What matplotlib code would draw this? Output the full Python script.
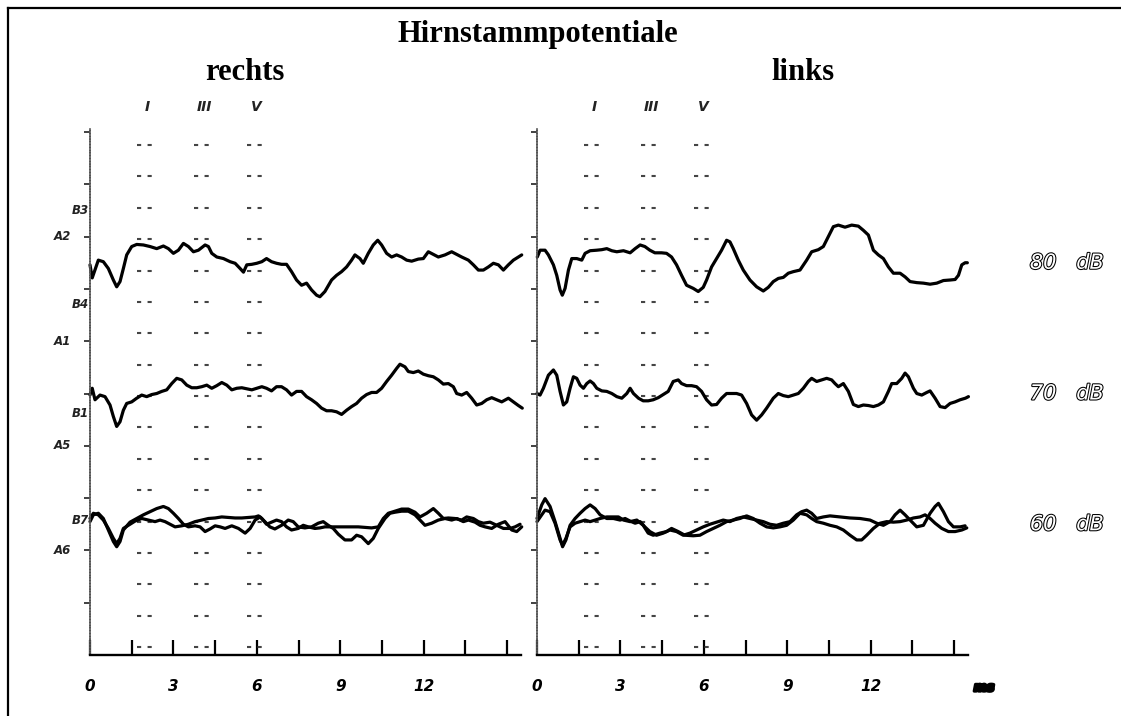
import numpy as np
import matplotlib
matplotlib.use("Agg")
import matplotlib.pyplot as plt
from matplotlib import patheffects as pe
from matplotlib.lines import Line2D

plt.rcParams['lines.scale_dashes'] = False

# ---------------------------------------------------------------
# Brainstem evoked responses: latency in ms, amplitude in divisions
# relative to the channel baseline (positive = up)
# ---------------------------------------------------------------

# right ear (rechts), 80 dB
RECHTS_80_T = [0.00, 0.08, 0.30, 0.48, 0.66, 0.84, 0.96, 1.08, 1.20, 1.32, 1.50, 1.68, 1.92, 2.16,
               2.40, 2.64, 2.82, 3.00, 3.18, 3.36, 3.54, 3.72, 3.90, 4.14, 4.26, 4.38, 4.56, 4.80,
               5.04, 5.22, 5.40, 5.52, 5.64, 5.82, 6.00, 6.18, 6.35, 6.53, 6.71, 6.89, 7.07, 7.25,
               7.43, 7.61, 7.79, 7.97, 8.15, 8.27, 8.45, 8.69, 8.87, 9.05, 9.23, 9.41, 9.53, 9.71,
               9.83, 10.01, 10.19, 10.35, 10.49, 10.67, 10.85, 11.03, 11.21, 11.39, 11.57, 11.81,
               11.99, 12.17, 12.35, 12.53, 12.77, 13.01, 13.19, 13.37, 13.61, 13.79, 13.97, 14.15,
               14.33, 14.51, 14.69, 14.87, 15.05, 15.23, 15.41, 15.53]
RECHTS_80_A = [-0.04, -0.29, 0.05, 0.02, -0.11, -0.33, -0.46, -0.36, -0.11, 0.15, 0.31, 0.35, 0.34, 0.31,
               0.27, 0.32, 0.27, 0.18, 0.24, 0.37, 0.31, 0.21, 0.24, 0.34, 0.31, 0.18, 0.11, 0.08,
               0.02, -0.01, -0.11, -0.18, -0.04, -0.03, -0.01, 0.02, 0.08, 0.02, -0.01, -0.03, -0.03, -0.17,
               -0.33, -0.43, -0.39, -0.52, -0.62, -0.65, -0.55, -0.33, -0.24, -0.17, -0.08, 0.05, 0.15, 0.08,
               -0.01, 0.18, 0.34, 0.43, 0.34, 0.18, 0.11, 0.15, 0.11, 0.05, 0.03, 0.07,
               0.08, 0.21, 0.16, 0.11, 0.15, 0.21, 0.16, 0.11, 0.05, -0.04, -0.14, -0.14,
               -0.08, -0.01, -0.04, -0.14, -0.04, 0.05, 0.11, 0.15]

# left ear (links), 80 dB
LINKS_80_T = [0.01, 0.11, 0.29, 0.41, 0.59, 0.71, 0.83, 0.91, 1.01, 1.13, 1.25, 1.43, 1.61, 1.73,
              1.91, 2.15, 2.33, 2.51, 2.69, 2.87, 3.11, 3.35, 3.53, 3.71, 3.88, 4.06, 4.24, 4.48,
              4.66, 4.84, 5.02, 5.20, 5.38, 5.62, 5.80, 5.98, 6.10, 6.28, 6.46, 6.64, 6.82, 6.94,
              7.06, 7.24, 7.42, 7.66, 7.90, 8.14, 8.32, 8.50, 8.68, 8.86, 9.04, 9.22, 9.46, 9.70,
              9.88, 10.12, 10.30, 10.48, 10.66, 10.84, 11.08, 11.32, 11.56, 11.74, 11.92, 12.10,
              12.28, 12.46, 12.64, 12.82, 13.06, 13.24, 13.42, 13.66, 13.90, 14.14, 14.38, 14.62,
              14.86, 15.04, 15.16, 15.28, 15.40, 15.48]
LINKS_80_A = [0.11, 0.24, 0.24, 0.15, -0.04, -0.24, -0.52, -0.62, -0.49, -0.14, 0.08, 0.08, 0.05, 0.18,
              0.23, 0.24, 0.25, 0.27, 0.23, 0.21, 0.23, 0.19, 0.27, 0.34, 0.31, 0.24, 0.19, 0.19,
              0.18, 0.11, -0.04, -0.24, -0.43, -0.49, -0.55, -0.47, -0.33, -0.08, 0.08, 0.24, 0.43, 0.40,
              0.27, 0.05, -0.14, -0.33, -0.46, -0.54, -0.47, -0.36, -0.30, -0.28, -0.20, -0.17, -0.14, 0.05,
              0.21, 0.25, 0.31, 0.50, 0.69, 0.72, 0.68, 0.72, 0.70, 0.62, 0.53, 0.24,
              0.15, 0.08, -0.08, -0.20, -0.20, -0.27, -0.36, -0.38, -0.39, -0.41, -0.39, -0.34,
              -0.33, -0.32, -0.24, -0.04, 0.00, 0.00]

# right ear (rechts), 70 dB
RECHTS_70_T = [0.00, 0.08, 0.18, 0.36, 0.54, 0.72, 0.84, 0.96, 1.08, 1.20, 1.32, 1.50, 1.68, 1.86,
               2.04, 2.22, 2.40, 2.58, 2.76, 2.94, 3.12, 3.30, 3.48, 3.66, 3.84, 4.02, 4.20, 4.38,
               4.56, 4.74, 4.92, 5.10, 5.28, 5.46, 5.64, 5.82, 6.00, 6.18, 6.35, 6.53, 6.71, 6.89,
               7.07, 7.25, 7.43, 7.61, 7.79, 7.97, 8.15, 8.33, 8.51, 8.69, 8.87, 9.05, 9.23, 9.41,
               9.59, 9.77, 9.95, 10.13, 10.31, 10.49, 10.67, 10.85, 11.03, 11.15, 11.33, 11.45,
               11.63, 11.81, 11.99, 12.17, 12.35, 12.53, 12.71, 12.89, 13.07, 13.19, 13.37, 13.55,
               13.73, 13.91, 14.09, 14.27, 14.45, 14.63, 14.81, 15.05, 15.23, 15.41, 15.55]
RECHTS_70_A = [-0.03, 0.10, -0.12, -0.03, -0.06, -0.22, -0.44, -0.63, -0.54, -0.32, -0.19, -0.16, -0.09, -0.03,
               -0.06, -0.02, 0.00, 0.04, 0.07, 0.19, 0.29, 0.26, 0.16, 0.11, 0.11, 0.13, 0.16, 0.10,
               0.15, 0.21, 0.16, 0.07, 0.10, 0.11, 0.09, 0.07, 0.10, 0.13, 0.10, 0.05, 0.13, 0.13,
               0.07, -0.03, 0.04, 0.04, -0.06, -0.12, -0.19, -0.28, -0.33, -0.33, -0.35, -0.40, -0.32, -0.25,
               -0.19, -0.09, -0.02, 0.02, 0.02, 0.10, 0.23, 0.35, 0.48, 0.56, 0.51, 0.42,
               0.40, 0.43, 0.37, 0.34, 0.32, 0.26, 0.18, 0.19, 0.13, 0.00, -0.03, 0.02,
               -0.09, -0.22, -0.19, -0.12, -0.08, -0.12, -0.16, -0.09, -0.16, -0.23, -0.28]

# left ear (links), 70 dB
LINKS_70_T = [0.00, 0.11, 0.23, 0.41, 0.59, 0.71, 0.83, 0.95, 1.07, 1.19, 1.31, 1.43, 1.55, 1.67,
              1.79, 1.91, 2.03, 2.15, 2.33, 2.51, 2.69, 2.87, 3.05, 3.23, 3.35, 3.47, 3.65, 3.82,
              4.00, 4.18, 4.36, 4.54, 4.72, 4.90, 5.08, 5.20, 5.38, 5.56, 5.74, 5.92, 6.10, 6.28,
              6.46, 6.64, 6.82, 7.00, 7.18, 7.36, 7.54, 7.72, 7.90, 8.08, 8.26, 8.50, 8.68, 8.86,
              9.04, 9.22, 9.40, 9.58, 9.76, 9.88, 10.06, 10.24, 10.42, 10.60, 10.72, 10.84, 11.02,
              11.20, 11.38, 11.56, 11.74, 11.92, 12.10, 12.28, 12.46, 12.64, 12.76, 12.94, 13.12,
              13.24, 13.36, 13.54, 13.66, 13.84, 14.02, 14.14, 14.32, 14.50, 14.68, 14.86, 15.04,
              15.22, 15.41, 15.52]
LINKS_70_A = [0.00, -0.03, 0.10, 0.35, 0.45, 0.35, 0.04, -0.22, -0.16, 0.10, 0.32, 0.29, 0.16, 0.10,
              0.19, 0.24, 0.19, 0.10, 0.05, 0.04, 0.00, -0.06, -0.09, 0.00, 0.10, 0.00, -0.09, -0.14,
              -0.14, -0.12, -0.08, -0.02, 0.04, 0.23, 0.26, 0.19, 0.15, 0.15, 0.13, 0.04, -0.12, -0.22,
              -0.21, -0.09, 0.00, 0.00, 0.00, -0.03, -0.19, -0.41, -0.51, -0.41, -0.28, -0.09, 0.00, -0.04,
              -0.06, -0.03, 0.00, 0.10, 0.23, 0.29, 0.23, 0.26, 0.29, 0.26, 0.19, 0.13, 0.19,
              0.04, -0.21, -0.25, -0.22, -0.23, -0.25, -0.22, -0.16, 0.04, 0.19, 0.19, 0.29,
              0.39, 0.32, 0.10, 0.00, -0.03, 0.02, 0.05, -0.09, -0.25, -0.27, -0.19, -0.16,
              -0.12, -0.09, -0.06]

# right ear (rechts), 60 dB, two repeated runs
RECHTS_60A_T = [0.00, 0.12, 0.30, 0.48, 0.66, 0.84, 0.96, 1.08, 1.20, 1.44, 1.68, 1.92, 2.16, 2.40,
                2.64, 2.82, 3.00, 3.18, 3.36, 3.54, 3.78, 3.96, 4.14, 4.32, 4.50, 4.68, 4.86, 5.10,
                5.34, 5.58, 5.76, 5.94, 6.12, 6.29, 6.47, 6.65, 6.89, 7.13, 7.31, 7.49, 7.73, 7.97,
                8.21, 8.39, 8.57, 8.75, 8.93, 9.17, 9.41, 9.59, 9.77, 10.01, 10.19, 10.37, 10.61,
                10.79, 10.97, 11.21, 11.45, 11.69, 11.87, 12.05, 12.29, 12.53, 12.77, 13.01, 13.19,
                13.43, 13.61, 13.85, 14.03, 14.21, 14.45, 14.69, 14.93, 15.17, 15.35, 15.53]
RECHTS_60A_A = [0.05, 0.18, 0.21, 0.11, -0.11, -0.33, -0.43, -0.33, -0.11, 0.04, 0.11, 0.18, 0.24, 0.30,
                0.34, 0.30, 0.21, 0.11, 0.00, -0.05, -0.03, -0.05, -0.14, -0.09, -0.03, -0.05, -0.08, -0.03,
                -0.08, -0.17, -0.08, 0.08, 0.14, 0.05, -0.05, -0.09, -0.02, 0.08, 0.05, -0.05, -0.07, -0.05,
                0.02, 0.05, -0.02, -0.08, -0.19, -0.30, -0.30, -0.21, -0.24, -0.37, -0.27, -0.08, 0.11,
                0.21, 0.23, 0.25, 0.25, 0.18, 0.08, -0.02, 0.02, 0.08, 0.11, 0.08, 0.11,
                0.05, 0.08, 0.04, -0.02, -0.05, -0.08, 0.00, 0.05, -0.11, -0.14, -0.05]
RECHTS_60B_T = [0.00, 0.12, 0.30, 0.48, 0.66, 0.84, 0.96, 1.08, 1.20, 1.38, 1.62, 1.86, 2.10, 2.34,
                2.52, 2.70, 2.88, 3.06, 3.30, 3.54, 3.78, 4.02, 4.26, 4.50, 4.74, 4.98, 5.22, 5.46,
                5.70, 5.94, 6.06, 6.18, 6.35, 6.53, 6.71, 6.89, 7.07, 7.25, 7.49, 7.67, 7.85, 8.09,
                8.27, 8.45, 8.69, 9.17, 9.65, 10.13, 10.37, 10.55, 10.73, 10.97, 11.21, 11.45, 11.69,
                11.87, 12.11, 12.35, 12.53, 12.71, 12.89, 13.13, 13.37, 13.55, 13.79, 13.97, 14.15,
                14.39, 14.63, 14.87, 15.11, 15.29, 15.47]
RECHTS_60B_A = [0.11, 0.21, 0.18, 0.08, -0.08, -0.27, -0.37, -0.27, -0.08, -0.02, 0.06, 0.11, 0.08, 0.05,
                0.08, 0.05, 0.00, -0.05, -0.03, 0.00, 0.05, 0.08, 0.11, 0.12, 0.14, 0.13, 0.12, 0.12,
                0.13, 0.14, 0.16, 0.11, 0.00, 0.04, 0.08, 0.05, -0.05, -0.11, -0.08, -0.02, -0.05, -0.08,
                -0.07, -0.05, -0.05, -0.05, -0.05, -0.07, -0.05, 0.11, 0.21, 0.25, 0.29, 0.29, 0.23,
                0.14, 0.21, 0.30, 0.21, 0.11, 0.12, 0.11, 0.08, 0.14, 0.11, 0.05, 0.02,
                0.04, -0.02, -0.08, -0.08, -0.05, 0.00]

# left ear (links), 60 dB, two repeated runs
LINKS_60A_T = [0.00, 0.17, 0.29, 0.47, 0.65, 0.83, 0.92, 1.04, 1.19, 1.37, 1.55, 1.73, 1.91, 2.09,
               2.27, 2.51, 2.75, 2.99, 3.17, 3.35, 3.53, 3.71, 3.88, 4.06, 4.30, 4.54, 4.78, 5.02,
               5.26, 5.50, 5.74, 5.98, 6.22, 6.46, 6.70, 6.94, 7.18, 7.42, 7.66, 7.90, 8.14, 8.38,
               8.62, 8.86, 9.10, 9.34, 9.52, 9.70, 9.88, 10.06, 10.30, 10.54, 10.90, 11.26, 11.62,
               11.98, 12.22, 12.46, 12.70, 12.88, 13.06, 13.24, 13.42, 13.66, 13.90, 14.14, 14.32,
               14.44, 14.62, 14.80, 14.98, 15.22, 15.40]
LINKS_60A_A = [0.11, 0.37, 0.49, 0.34, 0.05, -0.27, -0.43, -0.30, -0.02, 0.11, 0.21, 0.30, 0.37, 0.30,
               0.18, 0.11, 0.11, 0.08, 0.11, 0.06, 0.02, 0.05, -0.05, -0.14, -0.21, -0.17, -0.11, -0.14,
               -0.21, -0.17, -0.11, -0.05, 0.00, 0.04, 0.08, 0.05, 0.11, 0.14, 0.11, 0.08, 0.05, 0.00,
               -0.02, 0.02, 0.05, 0.18, 0.24, 0.27, 0.21, 0.11, 0.14, 0.16, 0.14, 0.12, 0.11,
               0.08, 0.02, -0.02, 0.05, 0.18, 0.27, 0.18, 0.08, -0.05, -0.02, 0.21, 0.34,
               0.40, 0.24, 0.05, -0.05, -0.05, -0.03]
LINKS_60B_T = [0.00, 0.17, 0.29, 0.47, 0.65, 0.83, 0.92, 1.04, 1.19, 1.37, 1.55, 1.73, 1.91, 2.09,
               2.27, 2.51, 2.75, 2.93, 3.11, 3.35, 3.59, 3.82, 4.00, 4.18, 4.42, 4.66, 4.84, 5.08,
               5.32, 5.62, 5.86, 6.10, 6.34, 6.58, 6.82, 7.06, 7.30, 7.54, 7.78, 8.02, 8.26, 8.50,
               8.74, 8.98, 9.22, 9.46, 9.70, 9.88, 10.06, 10.30, 10.54, 10.78, 11.02, 11.26, 11.50,
               11.68, 11.86, 12.10, 12.34, 12.58, 12.82, 13.06, 13.30, 13.54, 13.78, 13.96, 14.14,
               14.32, 14.56, 14.80, 15.04, 15.28, 15.46]
LINKS_60B_A = [0.05, 0.18, 0.27, 0.24, 0.02, -0.30, -0.40, -0.27, -0.05, 0.02, 0.05, 0.08, 0.05, 0.08,
               0.11, 0.14, 0.14, 0.14, 0.08, 0.05, 0.08, -0.02, -0.17, -0.21, -0.17, -0.14, -0.08, -0.14,
               -0.21, -0.22, -0.21, -0.14, -0.08, -0.02, 0.05, 0.08, 0.11, 0.16, 0.11, 0.02, -0.05, -0.07,
               -0.05, -0.02, 0.08, 0.21, 0.18, 0.11, 0.05, 0.02, -0.02, -0.05, -0.11, -0.21, -0.30,
               -0.30, -0.21, -0.08, 0.02, 0.05, 0.04, 0.05, 0.08, 0.12, 0.14, 0.18, 0.11,
               0.02, -0.08, -0.14, -0.14, -0.11, -0.07]

# channel baselines (divisions above the time axis) and their stimulus levels
LEVELS = ["80   dB", "70   dB", "60   dB"]
BASELINES = [7.5, 5.0, 2.5]

# latency markers for waves I, III and V (ms)
WAVE_NAMES = ["I", "III", "V"]
WAVE_LATENCY = [1.95, 4.0, 5.9]
MARKER_ROWS = [0.15, 0.75, 1.35, 1.95, 2.55, 3.15, 3.75, 4.35, 4.95, 5.55,
               6.15, 6.75, 7.35, 7.95, 8.55, 9.15, 9.75]

# electrode labels along the left trace axis
A_LABELS = ["A2", "A1", "A5", "A6"]
A_LEVELS = [8.0, 6.0, 4.0, 2.0]
B_LABELS = ["B3", "B4", "B1", "B7"]
B_LEVELS = [8.5, 6.7, 4.62, 2.58]

X_TICKS = [0, 1.5, 3, 4.5, 6, 7.5, 9, 10.5, 12, 13.5, 15]
X_LABELS = ["0", "", "3", "", "6", "", "9", "", "12", "", ""]
Y_TICKS = [1, 2, 3, 4, 5, 6, 7, 8, 9, 10]

# ---------------------------------------------------------------
W, H = 1121, 716
fig = plt.figure(figsize=(W / 100, H / 100), dpi=100)
fig.patch.set_facecolor("white")

PX_PER_MS = 27.8
PX_PER_DIV = 52.3
X0_LEFT, X0_RIGHT, Y0 = 90, 537, 655
XMAX = 15.5
YTOP_PX = 120
YMAX = (Y0 - YTOP_PX) / PX_PER_DIV

plot_font = dict(family="DejaVu Sans", style="italic", weight="bold")


def make_panel(x0):
    ax = fig.add_axes([x0 / W, (H - Y0) / H, XMAX * PX_PER_MS / W, (Y0 - YTOP_PX) / H])
    ax.set_xlim(0, XMAX)
    ax.set_ylim(0, YMAX)
    ax.patch.set_alpha(0)
    for s in ("top", "right"):
        ax.spines[s].set_visible(False)
    ax.spines["bottom"].set_linewidth(1.7)
    ax.spines["bottom"].set_color("black")
    ax.spines["left"].set_linewidth(1.2)
    ax.spines["left"].set_color("#555555")
    ax.spines["left"].set_linestyle((0, (1.0, 1.0)))
    ax.spines["left"].set_bounds(0, 10.05)
    ax.set_xticks(X_TICKS)
    ax.set_xticklabels(X_LABELS)
    for lab in ax.get_xticklabels():
        lab.set_fontfamily("DejaVu Sans")
        lab.set_fontstyle("italic")
        lab.set_fontweight("bold")
        lab.set_fontsize(11)
    ax.tick_params(axis="x", direction="in", length=11, width=1.6, pad=17, color="black")
    ax.set_yticks(Y_TICKS)
    ax.set_yticklabels([])
    ax.tick_params(axis="y", direction="out", length=4, width=1.3, color="#333333")

    # wave I / III / V latency markers
    for lat, name in zip(WAVE_LATENCY, WAVE_NAMES):
        ax.hlines(MARKER_ROWS, lat - 0.27, lat + 0.27, colors="#444444",
                  linestyles=[(0, (3.0, 4.6))], linewidth=1.5)
        ax.text(lat + 0.1, (Y0 - 107) / PX_PER_DIV, name, ha="center", va="center",
                fontsize=10, color="#222222", **plot_font)
    return ax


ax_r = make_panel(X0_LEFT)
ax_l = make_panel(X0_RIGHT)

trace_style = dict(color="black", lw=2.3, solid_joinstyle="round",
                   solid_capstyle="round", clip_on=False)

ax_r.plot(RECHTS_80_T, np.add(RECHTS_80_A, BASELINES[0]), **trace_style)
ax_r.plot(RECHTS_70_T, np.add(RECHTS_70_A, BASELINES[1]), **trace_style)
ax_r.plot(RECHTS_60A_T, np.add(RECHTS_60A_A, BASELINES[2]), **trace_style)
ax_r.plot(RECHTS_60B_T, np.add(RECHTS_60B_A, BASELINES[2]), **trace_style)

ax_l.plot(LINKS_80_T, np.add(LINKS_80_A, BASELINES[0]), **trace_style)
ax_l.plot(LINKS_70_T, np.add(LINKS_70_A, BASELINES[1]), **trace_style)
ax_l.plot(LINKS_60A_T, np.add(LINKS_60A_A, BASELINES[2]), **trace_style)
ax_l.plot(LINKS_60B_T, np.add(LINKS_60B_A, BASELINES[2]), **trace_style)

# electrode labels
for lab, lvl in zip(A_LABELS, A_LEVELS):
    ax_r.annotate(lab, xy=(0, lvl), xytext=(-13.5, 0), textcoords="offset points",
                  ha="right", va="center", fontsize=8.5, color="#222222",
                  annotation_clip=False, **plot_font)
for lab, lvl in zip(B_LABELS, B_LEVELS):
    ax_r.annotate(lab, xy=(0, lvl), xytext=(-1.0, 0), textcoords="offset points",
                  ha="right", va="center", fontsize=8.5, color="#222222",
                  annotation_clip=False, **plot_font)

# stimulus levels (outlined lettering)
for lvl, base in zip(LEVELS, BASELINES):
    ax_l.text(17.73, base, lvl, ha="left", va="center", fontsize=15,
              family="DejaVu Sans", style="italic", color="white", clip_on=False,
              path_effects=[pe.withStroke(linewidth=1.5, foreground="black")])

# time unit
ax_l.annotate("ms", xy=(16.08, 0), xytext=(0, -23.5), textcoords="offset points",
              ha="center", va="center", fontsize=9, color="black",
              annotation_clip=False, **plot_font,
              path_effects=[pe.withStroke(linewidth=2.2, foreground="black")])

# headings
serif = dict(family="Liberation Serif", weight="bold", fontsize=22, color="black")
fig.text(538 / W, 1 - 42 / H, "Hirnstammpotentiale", ha="center", va="baseline", **serif)
fig.text(245 / W, 1 - 80 / H, "rechts", ha="center", va="baseline", **serif)
fig.text(803 / W, 1 - 80 / H, "links", ha="center", va="baseline", **serif)

# page frame (top and left edges)
fig.add_artist(Line2D([7.5 / W, 7.5 / W], [0, 1 - 7.5 / H], color="black", lw=1.6,
                      transform=fig.transFigure))
fig.add_artist(Line2D([7.5 / W, 1], [1 - 7.5 / H, 1 - 7.5 / H], color="black", lw=1.6,
                      transform=fig.transFigure))

fig.savefig("out.png", dpi=100)
